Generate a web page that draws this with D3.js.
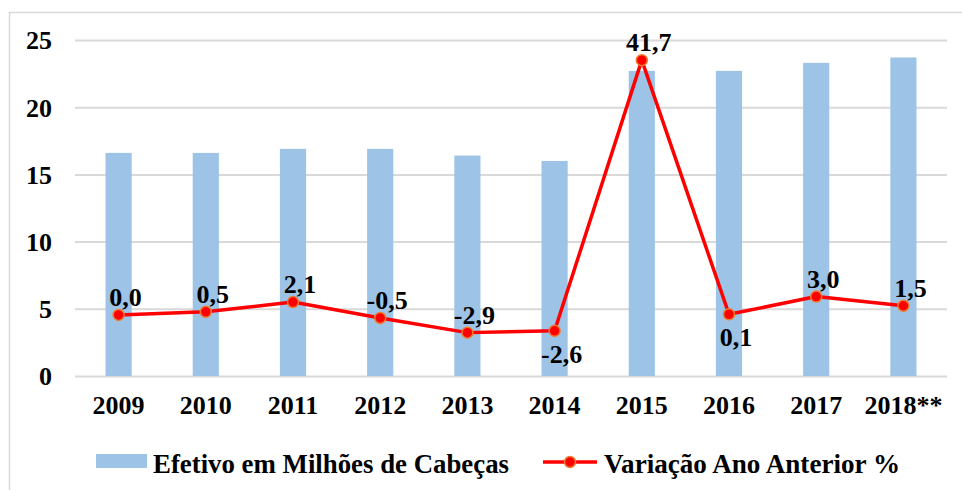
<!DOCTYPE html>
<html>
<head>
<meta charset="utf-8">
<script src="https://cdnjs.cloudflare.com/ajax/libs/d3/7.8.5/d3.min.js"></script>
<style>
    body { margin: 0; background: #fff; }
    #chart text { font-family: "Liberation Serif", "Times New Roman", serif !important; font-weight: 700 !important; }
</style>
</head>
<body>
<svg id="chart" width="962" height="490"></svg>
<script>
// chart values
const years = ["2009", "2010", "2011", "2012", "2013", "2014", "2015", "2016", "2017", "2018**"];
const efetivo = [16.6, 16.6, 16.9, 16.9, 16.4, 16.0, 22.7, 22.7, 23.3, 23.7];
const variacao = [0.0, 0.5, 2.1, -0.5, -2.9, -2.6, 41.7, 0.1, 3.0, 1.5];
const yTicks = [0, 5, 10, 15, 20, 25];
const seriesNames = ["Efetivo em Milhões de Cabeças", "Variação Ano Anterior %"];

const svg = d3.select("#chart");
const fmt = v => v.toFixed(1).replace(".", ",");

// frame
svg.append("rect")
    .attr("x", 9.5).attr("y", 12.5)
    .attr("width", 970).attr("height", 500)
    .attr("fill", "none").attr("stroke", "#d9d9d9").attr("stroke-width", 1.5);

const x = d3.scaleBand().domain(years).range([75, 947]).paddingInner(0.7).paddingOuter(0.35);
const y = d3.scaleLinear().domain([0, 25]).range([376, 40]);
// hidden secondary axis for the percentage line
const y2 = d3.scaleLinear().domain([-10, 45]).range([376, 40]);

// gridlines + left axis labels
const yAxis = svg.append("g")
    .attr("transform", "translate(75,0)")
    .call(d3.axisLeft(y).tickValues(yTicks).tickSize(-872).tickPadding(23));
yAxis.attr("font-family", null).attr("font-size", null);
yAxis.select(".domain").remove();
yAxis.selectAll(".tick line").attr("stroke", "#d9d9d9").attr("stroke-width", 2);
yAxis.selectAll(".tick text")
    .style("font-size", "26px")
    .attr("fill", "#000")
    .attr("dy", "0.34em");

// bars
svg.append("g").selectAll("rect")
    .data(years)
    .join("rect")
    .attr("x", d => x(d))
    .attr("width", x.bandwidth())
    .attr("y", (d, i) => y(efetivo[i]))
    .attr("height", (d, i) => y(0) - y(efetivo[i]))
    .attr("fill", "#9dc3e6");

// x axis labels
const xAxis = svg.append("g")
    .attr("transform", "translate(0,376)")
    .call(d3.axisBottom(x).tickSize(0).tickPadding(24));
xAxis.attr("font-family", null).attr("font-size", null);
xAxis.select(".domain").remove();
xAxis.selectAll(".tick text")
    .style("font-size", "26px")
    .attr("fill", "#000")
    .attr("dy", "0.55em");

// line
const cx = d => x(d) + x.bandwidth() / 2;
const line = d3.line()
    .x((d, i) => cx(years[i]))
    .y(d => y2(d));

svg.append("path")
    .datum(variacao)
    .attr("d", line)
    .attr("fill", "none")
    .attr("stroke", "#ff0000")
    .attr("stroke-width", 3.5)
    .attr("stroke-linejoin", "round");

svg.append("g").selectAll("circle")
    .data(variacao)
    .join("circle")
    .attr("cx", (d, i) => cx(years[i]))
    .attr("cy", d => y2(d))
    .attr("r", 5.5)
    .attr("fill", "#ff0000")
    .attr("stroke", "#ed7d31")
    .attr("stroke-width", 1.5);

// data labels (2014 and 2016 sit under the point)
const below = new Set(["2014", "2016"]);
svg.append("g")
    .selectAll("text")
    .data(variacao)
    .join("text")
    .style("font-size", "26px")
    .attr("x", (d, i) => cx(years[i]) + 7)
    .attr("y", (d, i) => y2(d) + (below.has(years[i]) ? 32 : -9))
    .attr("text-anchor", "middle")
    .text(d => fmt(d));

// legend
const legend = svg.append("g");
legend.append("rect")
    .attr("x", 96).attr("y", 454)
    .attr("width", 51).attr("height", 14)
    .attr("fill", "#9dc3e6");
legend.append("text")
    .style("font-size", "27px")
    .attr("x", 153).attr("y", 473)
    .attr("textLength", 356)
    .attr("lengthAdjust", "spacingAndGlyphs")
    .text(seriesNames[0]);

legend.append("line")
    .attr("x1", 543).attr("x2", 597)
    .attr("y1", 462).attr("y2", 462)
    .attr("stroke", "#ff0000").attr("stroke-width", 3.5);
legend.append("circle")
    .attr("cx", 570).attr("cy", 462).attr("r", 5.5)
    .attr("fill", "#ff0000")
    .attr("stroke", "#ed7d31")
    .attr("stroke-width", 1.5);
legend.append("text")
    .style("font-size", "27px")
    .attr("x", 604).attr("y", 473)
    .attr("textLength", 296)
    .attr("lengthAdjust", "spacingAndGlyphs")
    .text(seriesNames[1]);
</script>
</body>
</html>
